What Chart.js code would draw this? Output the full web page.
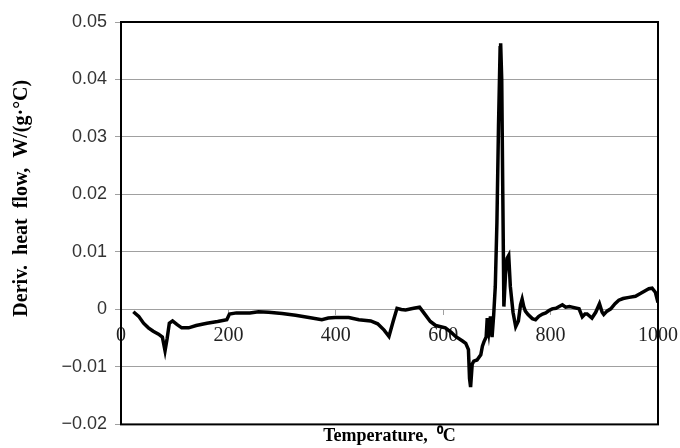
<!DOCTYPE html>
<html>
<head>
<meta charset="utf-8">
<script src="https://cdn.jsdelivr.net/npm/chart.js@4.4.1/dist/chart.umd.min.js"></script>
<style>
    html, body { margin: 0; padding: 0; background: #fff; }
    #wrap { width: 680px; height: 448px; position: relative; }
</style>
</head>
<body>
<div id="wrap"><canvas id="dscChart"></canvas></div>
<script>
// Temperature (°C) and derivative heat flow W/(g·°C)
const temperature = [
    23, 33, 42, 51, 60, 70, 77, 82, 86, 90, 96, 104, 113, 126, 140, 160, 180, 197,
    202, 215, 240, 256, 275, 300, 325, 350, 374, 386, 399, 424, 443, 465, 478, 490,
    499, 507, 514, 522, 530, 545, 556, 564, 576, 586, 604, 615, 623, 636, 642, 647,
    649, 651, 654, 657, 663, 670, 673, 676, 680, 682, 685, 688, 691, 694, 697, 700,
    703, 706, 707, 709, 711, 713, 716, 719, 722, 725, 730, 735, 740, 744, 747, 750,
    753, 758, 766, 772, 778, 785, 791, 797, 803, 810, 816, 822, 828, 835, 840, 853,
    859, 864, 868, 877, 884, 891, 896, 899, 905, 912, 920, 927, 935, 946, 958, 968,
    977, 983, 989, 995, 1000
];
const heatFlow = [
    -0.0004, -0.0012, -0.0024, -0.0032, -0.0038, -0.0043, -0.0048, -0.0072, -0.0050, -0.0024, -0.0020, -0.0026, -0.0032, -0.0032, -0.0028, -0.0024, -0.0021, -0.0018,
    -0.0008, -0.0006, -0.0006, -0.0004, -0.0005, -0.0007, -0.0010, -0.0014, -0.0018, -0.0015, -0.0014, -0.0014, -0.0018, -0.0020, -0.0025, -0.0036,
    -0.0047, -0.0020, 0.0002, 0.0000, -0.0001, 0.0002, 0.0004, -0.0006, -0.0021, -0.0028, -0.0032, -0.0040, -0.0047, -0.0055, -0.0059, -0.0070,
    -0.0120, -0.0135, -0.0095, -0.0090, -0.0088, -0.0079, -0.0064, -0.0056, -0.0048, -0.0015, -0.0038, -0.0012, -0.0048, -0.0010, 0.0040, 0.0150,
    0.0320, 0.0455, 0.0463, 0.0400, 0.0200, 0.0005, 0.0060, 0.0089, 0.0094, 0.0040, -0.0005, -0.0030, -0.0020, 0.0008, 0.0018, 0.0005,
    -0.0003, -0.0009, -0.0016, -0.0018, -0.0012, -0.0008, -0.0006, -0.0002, 0.0001, 0.0002, 0.0005, 0.0008, 0.0004, 0.0005, 0.0004, 0.0001,
    -0.0013, -0.0008, -0.0008, -0.0015, -0.0005, 0.0010, -0.0005, -0.0009, -0.0003, 0.0001, 0.0010, 0.0016, 0.0019, 0.0021, 0.0023, 0.0028,
    0.0033, 0.0036, 0.0037, 0.0030, 0.0012
];

// Axis ranges and tick steps
const xTicks = { min: 0, max: 1000, step: 200 };
const yTicks = { min: -0.02, max: 0.05, step: 0.01 };

const serif = "'Liberation Serif', 'Times New Roman', serif";
const sans = "'Liberation Sans', Arial, sans-serif";
const gridGray = '#a0a0a0';

// Black frame around the plot area
const plotFrame = {
    id: 'plotFrame',
    afterDatasetsDraw(chart) {
        const { ctx, chartArea: a } = chart;
        ctx.save();
        ctx.strokeStyle = '#000';
        ctx.lineWidth = 2;
        ctx.strokeRect(a.left, a.top, a.right - a.left, a.bottom - a.top);
        ctx.restore();
    }
};

function initChart() {
    const points = temperature.map((t, i) => ({ x: t, y: heatFlow[i] }));
    const ctx = document.getElementById('dscChart').getContext('2d');

    new Chart(ctx, {
        type: 'line',
        data: {
            datasets: [{
                data: points,
                borderColor: '#000',
                borderWidth: 3.5,
                pointRadius: 0,
                tension: 0,
                fill: false
            }]
        },
        options: {
            responsive: true,
            maintainAspectRatio: false,
            animation: false,
            layout: { padding: { top: 22, right: 22, bottom: 0, left: 0 } },
            plugins: {
                legend: { display: false },
                tooltip: { enabled: false },
                title: {
                    display: true,
                    fullSize: false,
                    position: 'bottom',
                    text: 'Temperature,  \u2070C',
                    color: '#000',
                    font: { family: serif, size: 18, weight: 'bold' },
                    padding: { top: 1, bottom: 1 }
                }
            },
            scales: {
                x: {
                    type: 'linear',
                    position: { y: 0 },
                    min: xTicks.min,
                    max: xTicks.max,
                    // let the "1000" label hang past the frame like the original
                    afterFit: scale => { scale.paddingLeft = 0; scale.paddingRight = 0; },
                    ticks: {
                        stepSize: xTicks.step,
                        color: '#222',
                        padding: 9,
                        maxRotation: 0,
                        font: { family: serif, size: 20 },
                        callback: v => String(v)
                    },
                    grid: {
                        drawOnChartArea: false,
                        drawTicks: true,
                        tickLength: 5,
                        color: gridGray
                    },
                    border: { color: gridGray, width: 1 }
                },
                y: {
                    min: yTicks.min,
                    max: yTicks.max,
                    afterFit: scale => { scale.width = 121; },
                    ticks: {
                        stepSize: yTicks.step,
                        color: '#333',
                        padding: 8,
                        font: { family: sans, size: 18 },
                        callback: v => {
                            const r = Math.round(v * 100) / 100;
                            if (r === 0) return '0';
                            return r < 0 ? '\u2212' + Math.abs(r).toFixed(2) : r.toFixed(2);
                        }
                    },
                    grid: {
                        color: gridGray,
                        tickLength: 6
                    },
                    border: { color: '#000', width: 2 },
                    title: {
                        display: true,
                        // leading em spaces lift the label as in the original figure
                        text: '\u2003\u2003\u2002Deriv.  heat  flow,  W/(g\u00b7\u00b0C)',
                        color: '#000',
                        font: { family: serif, size: 20, weight: 'bold' },
                        padding: { top: 10, bottom: 0 }
                    }
                }
            }
        },
        plugins: [plotFrame]
    });
}

document.addEventListener('DOMContentLoaded', initChart);
</script>
</body>
</html>
